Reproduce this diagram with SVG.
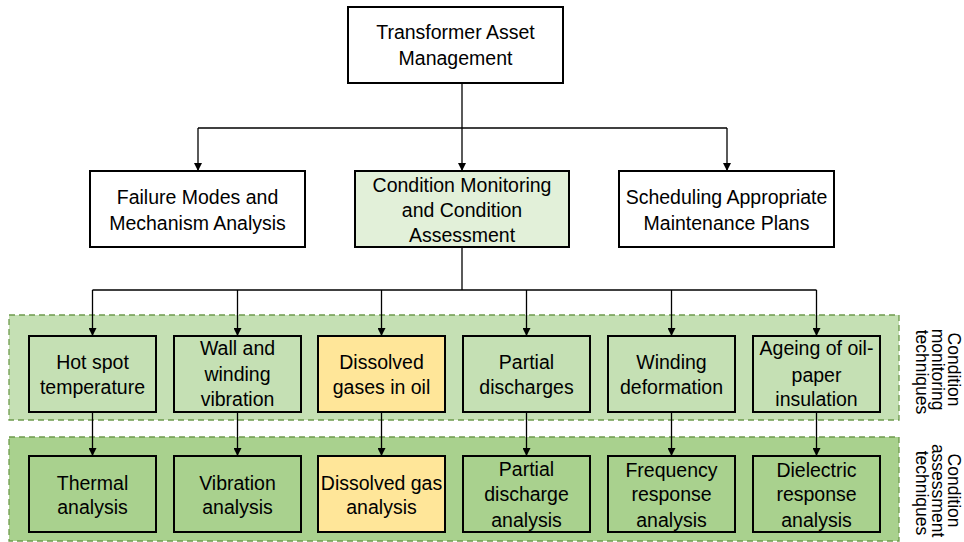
<svg xmlns="http://www.w3.org/2000/svg" width="964" height="542" viewBox="0 0 964 542">
  <style>
    .box { stroke: #000; stroke-width: 2; }
    .white { fill: #fff; }
    .pale { fill: #e2f0d9; }
    .mon { fill: #c5e0b4; }
    .ass { fill: #a9d18e; }
    .gas { fill: #ffe699; }
    .band { stroke: #6d9a4c; stroke-width: 1.3; stroke-dasharray: 6 4; }
    .lbl { font-family: "Liberation Sans", Arial, sans-serif; font-size: 19.5px; fill: #000; text-anchor: middle; }
    .side { font-family: "Liberation Sans", Arial, sans-serif; font-size: 17.5px; fill: #000; text-anchor: middle; }
    .wire { fill: none; stroke: #000; stroke-width: 1.3; }
  </style>
  <defs>
    <marker id="arrow" viewBox="0 0 10 10" refX="10" refY="5" markerWidth="8" markerHeight="8" markerUnits="userSpaceOnUse" orient="auto">
      <path d="M0,0 L10,5 L0,10 z" fill="#000"/>
    </marker>
  </defs>

  <rect width="964" height="542" fill="#fff"/>

  <!-- technique bands -->
  <g id="band-monitoring">
    <rect class="band mon" x="9" y="315" width="890" height="105"/>
    <text class="side" transform="translate(932 372) rotate(90)">
      <tspan x="0" y="-16">Condition</tspan>
      <tspan x="0" y="0">monitoring</tspan>
      <tspan x="0" y="16">techniques</tspan>
    </text>
  </g>
  <g id="band-assessment">
    <rect class="band ass" x="9" y="437" width="890" height="104"/>
    <text class="side" transform="translate(932 493) rotate(90)">
      <tspan x="0" y="-16">Condition</tspan>
      <tspan x="0" y="0">assessment</tspan>
      <tspan x="0" y="16">techniques</tspan>
    </text>
  </g>

  <!-- connectors -->
  <g id="connectors" class="wire">
    <path d="M462,83 V128"/>
    <path d="M198,128 H727"/>
    <path d="M198,128 V171" marker-end="url(#arrow)"/>
    <path d="M462,128 V171" marker-end="url(#arrow)"/>
    <path d="M727,128 V171" marker-end="url(#arrow)"/>
    <path d="M462,247 V290"/>
    <path d="M92.5,290 H816.5"/>
    <path d="M92.5,290 V336" marker-end="url(#arrow)"/>
    <path d="M237.5,290 V336" marker-end="url(#arrow)"/>
    <path d="M381.5,290 V336" marker-end="url(#arrow)"/>
    <path d="M526.5,290 V336" marker-end="url(#arrow)"/>
    <path d="M671.5,290 V336" marker-end="url(#arrow)"/>
    <path d="M816.5,290 V336" marker-end="url(#arrow)"/>
    <path d="M92.5,412 V456" marker-end="url(#arrow)"/>
    <path d="M237.5,412 V456" marker-end="url(#arrow)"/>
    <path d="M381.5,412 V456" marker-end="url(#arrow)"/>
    <path d="M526.5,412 V456" marker-end="url(#arrow)"/>
    <path d="M671.5,412 V456" marker-end="url(#arrow)"/>
    <path d="M816.5,412 V456" marker-end="url(#arrow)"/>
  </g>

  <!-- top level -->
  <g id="asset-management">
    <rect class="box white" x="348" y="7" width="215" height="76"/>
    <text class="lbl"><tspan x="455.5" y="39">Transformer Asset</tspan><tspan x="455.5" y="65">Management</tspan></text>
  </g>

  <!-- second level -->
  <g id="failure-modes">
    <rect class="box white" x="90" y="171" width="215" height="76"/>
    <text class="lbl"><tspan x="197.5" y="204">Failure Modes and</tspan><tspan x="197.5" y="230">Mechanism Analysis</tspan></text>
  </g>
  <g id="condition-monitoring">
    <rect class="box pale" x="355" y="171" width="214" height="76"/>
    <text class="lbl"><tspan x="462" y="192">Condition Monitoring</tspan><tspan x="462" y="217">and Condition</tspan><tspan x="462" y="242">Assessment</tspan></text>
  </g>
  <g id="maintenance-plans">
    <rect class="box white" x="619" y="171" width="215" height="76"/>
    <text class="lbl"><tspan x="726.5" y="204">Scheduling Appropriate</tspan><tspan x="726.5" y="230">Maintenance Plans</tspan></text>
  </g>

  <!-- monitoring techniques -->
  <g id="hot-spot">
    <rect class="box mon" x="29" y="336" width="127" height="76"/>
    <text class="lbl"><tspan x="92.5" y="369">Hot spot</tspan><tspan x="92.5" y="394">temperature</tspan></text>
  </g>
  <g id="vibration">
    <rect class="box mon" x="174" y="336" width="127" height="76"/>
    <text class="lbl"><tspan x="237.5" y="355">Wall and</tspan><tspan x="237.5" y="381">winding</tspan><tspan x="237.5" y="406">vibration</tspan></text>
  </g>
  <g id="dissolved-gases">
    <rect class="box gas" x="318" y="336" width="127" height="76"/>
    <text class="lbl"><tspan x="381.5" y="369">Dissolved</tspan><tspan x="381.5" y="394">gases in oil</tspan></text>
  </g>
  <g id="partial-discharges">
    <rect class="box mon" x="463" y="336" width="127" height="76"/>
    <text class="lbl"><tspan x="526.5" y="369">Partial</tspan><tspan x="526.5" y="394">discharges</tspan></text>
  </g>
  <g id="winding-deformation">
    <rect class="box mon" x="608" y="336" width="127" height="76"/>
    <text class="lbl"><tspan x="671.5" y="369">Winding</tspan><tspan x="671.5" y="394">deformation</tspan></text>
  </g>
  <g id="insulation-ageing">
    <rect class="box mon" x="753" y="336" width="127" height="76"/>
    <text class="lbl"><tspan x="816.5" y="355">Ageing of oil-</tspan><tspan x="816.5" y="382">paper</tspan><tspan x="816.5" y="406">insulation</tspan></text>
  </g>

  <!-- assessment techniques -->
  <g id="thermal-analysis">
    <rect class="box ass" x="29" y="456" width="127" height="76"/>
    <text class="lbl"><tspan x="92.5" y="490">Thermal</tspan><tspan x="92.5" y="514">analysis</tspan></text>
  </g>
  <g id="vibration-analysis">
    <rect class="box ass" x="174" y="456" width="127" height="76"/>
    <text class="lbl"><tspan x="237.5" y="490">Vibration</tspan><tspan x="237.5" y="514">analysis</tspan></text>
  </g>
  <g id="dga">
    <rect class="box gas" x="318" y="456" width="127" height="76"/>
    <text class="lbl"><tspan x="381.5" y="490">Dissolved gas</tspan><tspan x="381.5" y="514">analysis</tspan></text>
  </g>
  <g id="pd-analysis">
    <rect class="box ass" x="463" y="456" width="127" height="76"/>
    <text class="lbl"><tspan x="526.5" y="476">Partial</tspan><tspan x="526.5" y="501">discharge</tspan><tspan x="526.5" y="527">analysis</tspan></text>
  </g>
  <g id="fra">
    <rect class="box ass" x="608" y="456" width="127" height="76"/>
    <text class="lbl"><tspan x="671.5" y="477">Frequency</tspan><tspan x="671.5" y="501">response</tspan><tspan x="671.5" y="527">analysis</tspan></text>
  </g>
  <g id="dielectric-analysis">
    <rect class="box ass" x="753" y="456" width="127" height="76"/>
    <text class="lbl"><tspan x="816.5" y="477">Dielectric</tspan><tspan x="816.5" y="501">response</tspan><tspan x="816.5" y="527">analysis</tspan></text>
  </g>
</svg>
